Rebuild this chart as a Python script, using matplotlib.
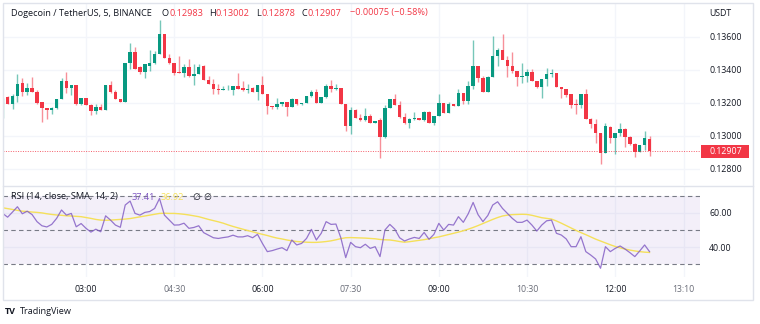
import numpy as np
import matplotlib
matplotlib.use('Agg')
from matplotlib import pyplot as plt
from matplotlib import transforms
from matplotlib.patches import Rectangle
from matplotlib.lines import Line2D

plt.rcParams['font.family'] = ['Open Sans', 'DejaVu Sans']

# 5 minute DOGE/USDT candles, first bar 01:35
opens = [0.13196, 0.13238, 0.13196, 0.13242, 0.13323, 0.13269, 0.13289, 0.13269, 0.13208, 0.13168,
         0.13158, 0.13168, 0.13222, 0.13333, 0.13289, 0.13309, 0.13196, 0.13228, 0.13188, 0.13152,
         0.13178, 0.13158, 0.13307, 0.13269, 0.13226, 0.13208, 0.13440, 0.13511, 0.13418, 0.13390,
         0.13424, 0.13444, 0.13495, 0.13620, 0.13471, 0.13440, 0.13390, 0.13384, 0.13418, 0.13364,
         0.13378, 0.13424, 0.13337, 0.13317, 0.13283, 0.13277, 0.13283, 0.13281, 0.13303, 0.13289,
         0.13281, 0.13289, 0.13269, 0.13307, 0.13253, 0.13184, 0.13178, 0.13196, 0.13208, 0.13176,
         0.13222, 0.13192, 0.13202, 0.13242, 0.13269, 0.13202, 0.13236, 0.13303, 0.13283, 0.13289,
         0.13196, 0.13061, 0.13156, 0.13107, 0.13095, 0.13121, 0.13081, 0.13095, 0.12994, 0.13168,
         0.13222, 0.13188, 0.13115, 0.13081, 0.13101, 0.13111, 0.13095, 0.13145, 0.13081, 0.13121,
         0.13202, 0.13141, 0.13196, 0.13182, 0.13263, 0.13212, 0.13303, 0.13424, 0.13354, 0.13269,
         0.13358, 0.13485, 0.13519, 0.13459, 0.13424, 0.13394, 0.13358, 0.13364, 0.13390, 0.13333,
         0.13297, 0.13343, 0.13378, 0.13384, 0.13297, 0.13283, 0.13253, 0.13192, 0.13188, 0.13253,
         0.13101, 0.13071, 0.13020, 0.12899, 0.13055, 0.12986, 0.13020, 0.13040, 0.12994, 0.12950,
         0.12905, 0.12946, 0.12983]
highs = [0.13232, 0.13242, 0.13252, 0.13374, 0.13354, 0.13323, 0.13358, 0.13277, 0.13208, 0.13168,
         0.13176, 0.13222, 0.13350, 0.13390, 0.13309, 0.13309, 0.13232, 0.13232, 0.13196, 0.13192,
         0.13192, 0.13309, 0.13333, 0.13277, 0.13226, 0.13440, 0.13566, 0.13539, 0.13424, 0.13434,
         0.13519, 0.13515, 0.13701, 0.13620, 0.13495, 0.13440, 0.13485, 0.13434, 0.13469, 0.13434,
         0.13438, 0.13430, 0.13364, 0.13343, 0.13313, 0.13303, 0.13309, 0.13303, 0.13384, 0.13333,
         0.13317, 0.13297, 0.13307, 0.13364, 0.13253, 0.13184, 0.13232, 0.13208, 0.13208, 0.13232,
         0.13226, 0.13202, 0.13242, 0.13277, 0.13283, 0.13236, 0.13317, 0.13337, 0.13313, 0.13289,
         0.13196, 0.13176, 0.13162, 0.13131, 0.13168, 0.13131, 0.13091, 0.13111, 0.13188, 0.13222,
         0.13253, 0.13212, 0.13141, 0.13111, 0.13145, 0.13111, 0.13152, 0.13149, 0.13121, 0.13253,
         0.13202, 0.13208, 0.13196, 0.13283, 0.13263, 0.13333, 0.13580, 0.13424, 0.13364, 0.13364,
         0.13606, 0.13535, 0.13616, 0.13485, 0.13511, 0.13394, 0.13444, 0.13404, 0.13404, 0.13333,
         0.13343, 0.13410, 0.13404, 0.13384, 0.13297, 0.13283, 0.13253, 0.13222, 0.13257, 0.13283,
         0.13111, 0.13101, 0.13020, 0.13081, 0.13061, 0.13020, 0.13081, 0.13051, 0.13000, 0.12960,
         0.12946, 0.13030, 0.13002]
lows = [0.13111, 0.13196, 0.13164, 0.13208, 0.13242, 0.13249, 0.13269, 0.13196, 0.13087, 0.13101,
        0.13131, 0.13162, 0.13222, 0.13263, 0.13249, 0.13188, 0.13188, 0.13188, 0.13127, 0.13131,
        0.13158, 0.13158, 0.13263, 0.13222, 0.13208, 0.13208, 0.13404, 0.13404, 0.13378, 0.13350,
        0.13394, 0.13434, 0.13495, 0.13471, 0.13434, 0.13370, 0.13380, 0.13358, 0.13358, 0.13309,
        0.13378, 0.13337, 0.13313, 0.13257, 0.13257, 0.13277, 0.13277, 0.13249, 0.13283, 0.13273,
        0.13263, 0.13265, 0.13216, 0.13253, 0.13131, 0.13162, 0.13162, 0.13182, 0.13121, 0.13176,
        0.13188, 0.13188, 0.13202, 0.13238, 0.13202, 0.13202, 0.13232, 0.13269, 0.13277, 0.13192,
        0.13030, 0.13014, 0.13107, 0.13091, 0.13091, 0.13081, 0.13081, 0.12869, 0.12986, 0.13168,
        0.13188, 0.13111, 0.13071, 0.13051, 0.13097, 0.13095, 0.13091, 0.13081, 0.13067, 0.13121,
        0.13141, 0.13141, 0.13182, 0.13182, 0.13196, 0.13196, 0.13283, 0.13329, 0.13269, 0.13269,
        0.13358, 0.13424, 0.13465, 0.13358, 0.13384, 0.13303, 0.13323, 0.13329, 0.13333, 0.13293,
        0.13232, 0.13303, 0.13358, 0.13297, 0.13232, 0.13236, 0.13168, 0.13135, 0.13168, 0.13101,
        0.13051, 0.12960, 0.12828, 0.12899, 0.12960, 0.12893, 0.13000, 0.12933, 0.12946, 0.12873,
        0.12905, 0.12913, 0.12878]
closes = [0.13232, 0.13196, 0.13242, 0.13317, 0.13269, 0.13289, 0.13269, 0.13202, 0.13168, 0.13158,
          0.13168, 0.13222, 0.13333, 0.13289, 0.13309, 0.13192, 0.13228, 0.13188, 0.13152, 0.13178,
          0.13158, 0.13307, 0.13269, 0.13226, 0.13208, 0.13440, 0.13511, 0.13404, 0.13390, 0.13434,
          0.13444, 0.13495, 0.13620, 0.13471, 0.13440, 0.13384, 0.13384, 0.13418, 0.13364, 0.13378,
          0.13418, 0.13337, 0.13317, 0.13283, 0.13277, 0.13283, 0.13287, 0.13303, 0.13283, 0.13281,
          0.13287, 0.13269, 0.13307, 0.13253, 0.13182, 0.13178, 0.13196, 0.13208, 0.13176, 0.13222,
          0.13192, 0.13202, 0.13242, 0.13269, 0.13202, 0.13236, 0.13303, 0.13283, 0.13289, 0.13196,
          0.13061, 0.13156, 0.13107, 0.13095, 0.13121, 0.13081, 0.13091, 0.12994, 0.13168, 0.13222,
          0.13188, 0.13115, 0.13081, 0.13101, 0.13111, 0.13095, 0.13145, 0.13081, 0.13121, 0.13202,
          0.13141, 0.13196, 0.13182, 0.13263, 0.13212, 0.13303, 0.13424, 0.13354, 0.13269, 0.13358,
          0.13485, 0.13519, 0.13459, 0.13424, 0.13394, 0.13358, 0.13364, 0.13390, 0.13333, 0.13297,
          0.13343, 0.13378, 0.13384, 0.13297, 0.13283, 0.13249, 0.13188, 0.13188, 0.13253, 0.13101,
          0.13071, 0.13020, 0.12899, 0.13061, 0.12986, 0.13020, 0.13040, 0.12994, 0.12950, 0.12905,
          0.12946, 0.12986, 0.12907]

rsi = [59.7, 57.5, 60.5, 63.6, 59.5, 61.0, 59.0, 54.9, 52.5, 51.8,
       53.3, 56.8, 61.7, 58.7, 59.7, 51.9, 53.8, 51.0, 48.8, 50.5,
       49.0, 58.3, 55.8, 52.9, 51.6, 64.6, 66.9, 59.7, 58.7, 60.3,
       60.8, 62.6, 68.4, 58.7, 55.8, 52.9, 53.0, 54.0, 51.0, 51.5,
       52.5, 48.5, 47.0, 45.5, 45.1, 45.6, 46.0, 47.0, 46.0, 46.0,
       46.7, 45.5, 47.5, 42.2, 37.4, 38.0, 38.9, 39.7, 38.0, 44.2,
       41.3, 42.2, 45.1, 50.4, 44.2, 48.1, 54.9, 53.3, 53.5, 45.5,
       33.9, 42.8, 40.3, 39.7, 41.7, 39.3, 40.3, 34.5, 50.0, 53.3,
       50.6, 45.5, 43.6, 44.8, 45.7, 45.1, 48.6, 44.6, 47.5, 53.9,
       50.0, 53.3, 52.9, 57.8, 54.5, 59.5, 66.1, 59.0, 54.9, 58.5,
       64.6, 66.5, 62.6, 59.7, 56.8, 54.5, 54.5, 55.8, 52.9, 49.4,
       52.9, 55.4, 55.8, 48.1, 47.1, 44.8, 40.3, 40.3, 46.1, 37.4,
       35.4, 33.1, 27.7, 40.3, 37.4, 39.3, 40.7, 38.9, 36.8, 34.5,
       37.8, 41.3, 37.41]
rsi_ma = [63.0, 62.5, 62.0, 61.5, 61.0, 60.8, 60.5, 60.3, 60.0, 59.5,
          59.1, 58.8, 58.6, 58.3, 58.2, 58.0, 57.8, 57.3, 56.8, 56.2,
          55.8, 55.7, 55.8, 56.0, 56.2, 56.4, 56.7, 57.2, 57.7, 58.2,
          58.7, 59.2, 59.7, 59.8, 59.7, 59.7, 59.5, 59.2, 58.8, 58.3,
          57.8, 57.0, 56.2, 55.5, 54.8, 54.0, 53.0, 52.1, 51.3, 50.5,
          49.7, 49.0, 48.2, 47.5, 46.8, 46.0, 45.3, 44.8, 44.2, 43.7,
          43.3, 43.1, 42.9, 42.8, 42.8, 43.0, 43.3, 43.7, 44.3, 45.0,
          45.5, 45.6, 45.5, 45.4, 45.3, 45.1, 44.9, 44.5, 44.3, 44.2,
          43.8, 43.3, 42.9, 43.2, 43.6, 44.0, 44.4, 44.9, 45.5, 46.0,
          46.7, 47.4, 48.1, 48.8, 49.6, 50.5, 51.5, 52.6, 53.8, 55.0,
          56.2, 57.3, 58.2, 58.7, 59.0, 59.1, 59.2, 59.1, 58.6, 57.9,
          57.2, 56.8, 56.4, 55.3, 54.0, 52.6, 51.2, 49.8, 48.5, 47.3,
          46.0, 44.7, 43.6, 42.5, 41.4, 40.4, 39.6, 38.9, 38.3, 37.8,
          37.4, 37.1, 36.92]

time_ticks = [17, 35, 53, 71, 89, 107, 125, 139]
time_labels = ['03:00', '04:30', '06:00', '07:30', '09:00', '10:30', '12:00', '13:10']
price_ticks = [0.128, 0.130, 0.132, 0.134, 0.136]
rsi_ticks = [40, 60]

GREEN = '#089981'
RED = '#f23645'
PURPLE = '#7e57c2'
YELLOW = '#f5e05a'
TEXT = '#131722'
GRID = '#f3f5fa'
BORDER = '#e0e3eb'

W, H = 760, 324


def fx(x):
    return x / W


def fy(y):
    return 1 - y / H


fig = plt.figure(figsize=(W / 100, H / 100), dpi=100)
fig.patch.set_facecolor('white')

left, right = 3.3, 700
ax = fig.add_axes([fx(left), fy(185), fx(right - left), (185 - 3) / H])
ax2 = fig.add_axes([fx(left), fy(277), fx(right - left), (277 - 186) / H], sharex=ax)

o = np.array(opens)
c = np.array(closes)
idx = np.arange(len(c))
up = c >= o
cols = np.where(up, GREEN, RED)

ax.vlines(idx, lows, highs, colors=cols, linewidth=1, alpha=0.55)
ax.bar(idx, np.maximum(np.abs(c - o), 0.00002), bottom=np.minimum(o, c),
       width=0.72, color=cols, linewidth=0)

ax.axhline(closes[-1], color=RED, linestyle=(0, (1, 1.5)), linewidth=0.7, alpha=0.8)

ax.set_xlim(0.12, 142.3)
ax.set_ylim(0.12703, 0.13806)
ax.set_yticks(price_ticks)
ax.set_yticklabels(['%.5f' % p for p in price_ticks])
ax.yaxis.tick_right()
ax.set_xticks(time_ticks)
ax.tick_params(axis='y', length=0, pad=6.5, labelsize=6.3, labelcolor=TEXT)
ax.tick_params(axis='x', length=0, labelbottom=False)
ax.grid(True, color=GRID, linewidth=1)
ax.set_axisbelow(True)
for s in ax.spines.values():
    s.set_visible(False)

# last price marker on the scale
blend = transforms.blended_transform_factory(fig.transFigure, ax.transData)
ax.add_patch(Rectangle((fx(701), closes[-1] - 0.0004), fx(48), 0.0008, transform=blend,
                       facecolor=RED, edgecolor='none', clip_on=False))
ax.text(fx(709), closes[-1], '%.5f' % closes[-1], transform=blend, color='white',
        fontsize=6.3, va='center', ha='left', clip_on=False)

# RSI pane
ax2.axhspan(30, 70, color=PURPLE, alpha=0.09, linewidth=0)
for lv in [70, 50, 30]:
    ax2.axhline(lv, color='#787b86', linestyle=(0, (4, 3)), linewidth=0.8)
ax2.plot(idx, rsi_ma, color=YELLOW, linewidth=1)
ax2.plot(idx, rsi, color=PURPLE, linewidth=0.9, alpha=0.8)
ax2.set_ylim(22.6, 75.7)
ax2.set_yticks(rsi_ticks)
ax2.set_yticklabels(['%.2f' % v for v in rsi_ticks])
ax2.yaxis.tick_right()
ax2.set_xticks(time_ticks)
ax2.set_xticklabels(time_labels)
ax2.tick_params(axis='y', length=0, pad=6.5, labelsize=6.3, labelcolor=TEXT)
ax2.tick_params(axis='x', length=0, pad=6, labelsize=6.3)
for lab, t in zip(ax2.get_xticklabels(), time_labels):
    lab.set_color(TEXT if t.endswith(':00') else '#6a6d78')
ax2.grid(True, color=GRID, linewidth=1)
ax2.set_axisbelow(True)
for s in ax2.spines.values():
    s.set_visible(False)

# frame and pane separator
fig.add_artist(Rectangle((fx(3), fy(300)), fx(750), (300 - 3) / H, transform=fig.transFigure,
                         facecolor='none', edgecolor=BORDER, linewidth=1))
fig.add_artist(Line2D([fx(3), fx(753)], [fy(185.5), fy(185.5)], color=BORDER, linewidth=1))

# header legend
fig.text(fx(11), fy(13), 'Dogecoin / TetherUS, 5, BINANCE', fontsize=6.6, color=TEXT, va='center')
hdr = [(162, 'O', TEXT), (169, '0.12983', RED), (209, 'H', TEXT), (216, '0.13002', RED),
       (256, 'L', TEXT), (262, '0.12878', RED), (302, 'C', TEXT), (308, '0.12907', RED),
       (350, '\u22120.00075 (\u22120.58%)', RED)]
for x, s, col in hdr:
    fig.text(fx(x), fy(13), s, fontsize=6.6, color=col, va='center')
fig.text(fx(709), fy(13), 'USDT', fontsize=6.3, color=TEXT, va='center')

fig.text(fx(11), fy(197), 'RSI (14, close, SMA, 14, 2)', fontsize=6.6, color=TEXT, va='center')
fig.text(fx(132), fy(197), '%.2f' % rsi[-1], fontsize=6.6, color=PURPLE, va='center')
fig.text(fx(161), fy(197), '%.2f' % rsi_ma[-1], fontsize=6.6, color=YELLOW, va='center')
fig.text(fx(192), fy(197), '\u2205', fontsize=6.6, color=TEXT, va='center')
fig.text(fx(203), fy(197), '\u2205', fontsize=6.6, color=TEXT, va='center')

# footer logo
fig.text(fx(5), fy(311), 'TV', fontsize=6.5, color=TEXT, va='center', fontweight='bold')
fig.text(fx(20), fy(311), 'TradingView', fontsize=6.6, color=TEXT, va='center')

fig.savefig('out.png', dpi=100, facecolor='white')
